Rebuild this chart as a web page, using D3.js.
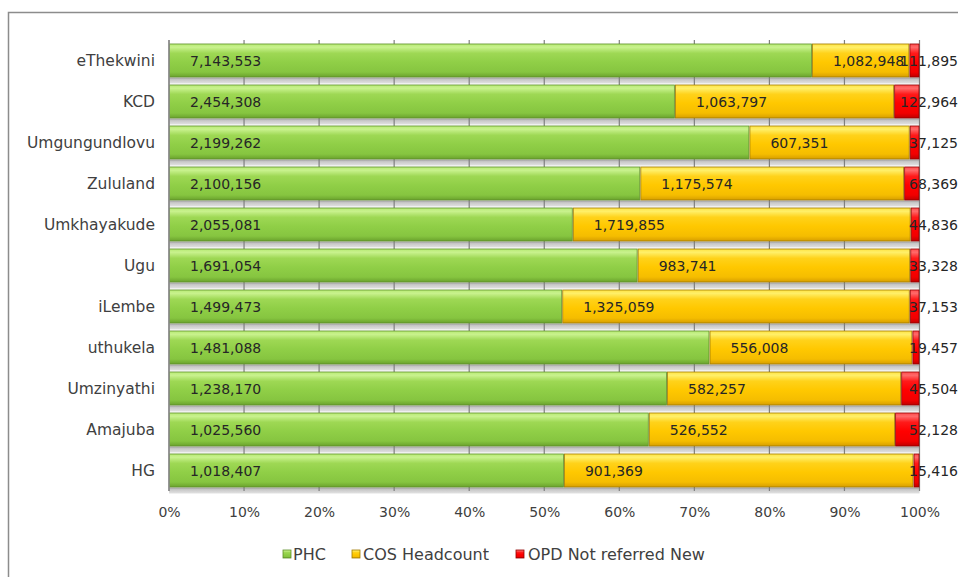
<!DOCTYPE html>
<html>
<head>
<meta charset="utf-8">
<script src="https://cdn.jsdelivr.net/npm/d3@7"></script>
<style>
  html, body { margin: 0; padding: 0; background: #fff; }
  svg { display: block; font-family: "DejaVu Sans", sans-serif; }
</style>
</head>
<body>
<svg id="chart" width="958" height="577"></svg>
<script>
// Districts, top to bottom
const districts = ["eThekwini", "KCD", "Umgungundlovu", "Zululand", "Umkhayakude", "Ugu",
                   "iLembe", "uthukela", "Umzinyathi", "Amajuba", "HG"];
// Headcounts per service type
const phc = [7143553, 2454308, 2199262, 2100156, 2055081, 1691054, 1499473, 1481088, 1238170, 1025560, 1018407];
const cosHeadcount = [1082948, 1063797, 607351, 1175574, 1719855, 983741, 1325059, 556008, 582257, 526552, 901369];
const opdNotReferred = [111895, 122964, 37125, 68369, 44836, 33328, 37153, 19457, 45504, 52128, 15416];
const seriesNames = ["PHC", "COS Headcount", "OPD Not referred New"];
const tickValues = [0, 0.1, 0.2, 0.3, 0.4, 0.5, 0.6, 0.7, 0.8, 0.9, 1.0];

const svg = d3.select("#chart");
const W = 958, H = 577;
const plot = { left: 169, right: 919.5, top: 40, bottom: 491 };
const chartRight = 958;

// Bevel gradients for each series
const palette = [
  { id: "g-phc", stops: ["#b6ea72", "#c9f28e", "#9ed854", "#90cf47", "#86c540", "#6aa22d"], stroke: "#5f8f2a" },
  { id: "g-cos", stops: ["#ffe240", "#fff06a", "#ffd21a", "#ffc800", "#f5bd00", "#d79e00"], stroke: "#a07a00" },
  { id: "g-opd", stops: ["#ff4a4a", "#ff6a6a", "#ff1a1a", "#ff0000", "#f20000", "#c00000"], stroke: "#900000" }
];
const offsets = [0, 0.1, 0.28, 0.55, 0.85, 1];
const defs = svg.append("defs");
palette.forEach(p => {
  const lg = defs.append("linearGradient").attr("id", p.id)
    .attr("x1", 0).attr("y1", 0).attr("x2", 0).attr("y2", 1);
  p.stops.forEach((c, i) => lg.append("stop").attr("offset", offsets[i]).attr("stop-color", c));
});
const sh = defs.append("linearGradient").attr("id", "g-shadow")
  .attr("x1", 0).attr("y1", 0).attr("x2", 0).attr("y2", 1);
sh.append("stop").attr("offset", 0).attr("stop-color", "#9c9c9c");
sh.append("stop").attr("offset", 0.35).attr("stop-color", "#c8c8c8");
sh.append("stop").attr("offset", 1).attr("stop-color", "#e2e2e2");

// Chart frame
svg.append("rect").attr("x", 8.5).attr("y", 12.5).attr("width", W).attr("height", H)
  .attr("fill", "#fff").attr("stroke", "#8c8c8c").attr("stroke-width", 1.5);

// Build stacked percentages
const rows = districts.map((d, i) => {
  const vals = [phc[i], cosHeadcount[i], opdNotReferred[i]];
  const total = d3.sum(vals);
  let acc = 0;
  const segs = vals.map((v, k) => {
    const s = { key: k, value: v, x0: acc / total, x1: (acc + v) / total };
    acc += v;
    return s;
  });
  return { name: d, segs };
});

const x = d3.scaleLinear().domain([0, 1]).range([plot.left, plot.right]);
const y = d3.scaleBand().domain(districts).range([plot.top, plot.bottom]).paddingInner(0.17).paddingOuter(0.085);

// Bar shadows
svg.append("g").selectAll("rect").data(rows).join("rect")
  .attr("x", plot.left).attr("width", plot.right - plot.left)
  .attr("y", d => y(d.name) + y.bandwidth())
  .attr("height", 6)
  .attr("fill", "url(#g-shadow)");

// Vertical gridlines
svg.append("g").selectAll("line").data(tickValues).join("line")
  .attr("x1", d => x(d)).attr("x2", d => x(d))
  .attr("y1", plot.top).attr("y2", plot.bottom)
  .attr("stroke", "#7f7f7f").attr("stroke-width", 1.2);

// Bars
const barG = svg.append("g");
rows.forEach(r => {
  barG.selectAll(null).data(r.segs).join("rect")
    .attr("x", d => x(d.x0) + 0.5)
    .attr("width", d => Math.max(0, x(d.x1) - x(d.x0) - 1))
    .attr("y", y(r.name) + 0.5)
    .attr("height", y.bandwidth() - 1)
    .attr("fill", d => `url(#${palette[d.key].id})`)
    .attr("stroke", d => palette[d.key].stroke)
    .attr("stroke-width", 0.8);
});

// Value labels, placed at the inside base of each segment and kept within the chart
const fmt = d3.format(",");
const labelG = svg.append("g").attr("font-size", "14px").attr("fill", "#262626");
rows.forEach(r => {
  r.segs.forEach(s => {
    const t = labelG.append("text")
      .attr("y", y(r.name) + y.bandwidth() / 2)
      .attr("dy", "0.36em")
      .text(fmt(s.value));
    const w = t.node().getComputedTextLength();
    let lx = x(s.x0) + 21;
    if (lx + w > chartRight) lx = chartRight - w;
    t.attr("x", lx);
  });
});

// Category axis labels
svg.append("g").attr("font-size", "15.5px").attr("fill", "#404040").attr("text-anchor", "end")
  .selectAll("text").data(districts).join("text")
  .attr("x", 155)
  .attr("y", d => y(d) + y.bandwidth() / 2)
  .attr("dy", "0.36em")
  .text(d => d);

// Left axis line
svg.append("line").attr("x1", plot.left).attr("x2", plot.left)
  .attr("y1", plot.top).attr("y2", plot.bottom)
  .attr("stroke", "#8c8c8c").attr("stroke-width", 1.5);

// Percentage axis
const xAxis = d3.axisBottom(x).tickValues(tickValues).tickFormat(d3.format(".0%")).tickSize(0).tickPadding(0);
const xg = svg.append("g").attr("transform", `translate(0,${plot.bottom + 21})`).call(xAxis);
xg.select(".domain").remove();
xg.selectAll("text").attr("font-family", "DejaVu Sans, sans-serif").attr("font-size", "14px")
  .attr("fill", "#404040").attr("dy", "0.36em");

// Legend
const legendItems = [
  { name: seriesNames[0], mx: 283, tx: 293 },
  { name: seriesNames[1], mx: 352, tx: 363 },
  { name: seriesNames[2], mx: 516, tx: 528 }
];
const lg = svg.append("g");
legendItems.forEach((it, i) => {
  lg.append("rect").attr("x", it.mx).attr("y", 550).attr("width", 8).attr("height", 8)
    .attr("fill", `url(#${palette[i].id})`).attr("stroke", palette[i].stroke).attr("stroke-width", 0.8);
  lg.append("text").attr("x", it.tx).attr("y", 554).attr("dy", "0.36em")
    .attr("font-size", "16px").attr("fill", "#404040").text(it.name);
});
</script>
</body>
</html>
